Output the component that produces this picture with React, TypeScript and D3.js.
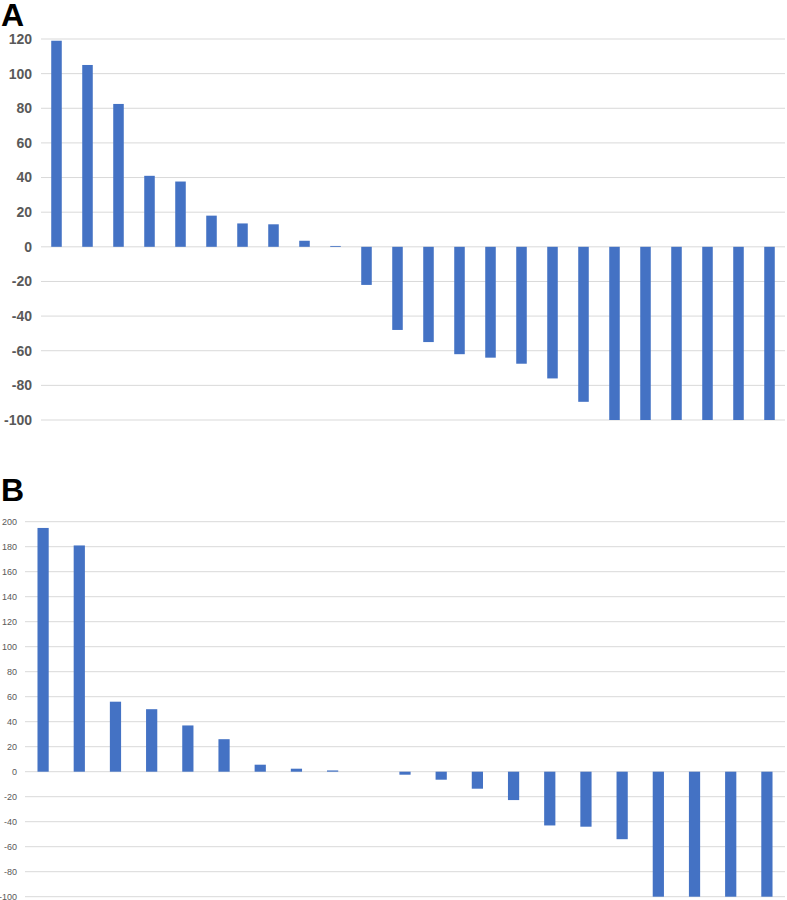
import React from 'react';
import * as d3 from 'd3';

// canvas
const width = 787;
const height = 900;

// panel A data
const valuesA = [119, 105, 82.5, 41, 37.7, 18, 13.5, 13, 3.5, 0.5, -22, -48, -55, -62, -64, -67.5, -76, -89.5, -100, -100, -100, -100, -100, -100];
const ticksA = [120, 100, 80, 60, 40, 20, 0, -20, -40, -60, -80, -100];

// panel B data
const valuesB = [195, 181, 56, 50, 37, 26, 5.6, 2.4, 1, 0, -2.4, -6.4, -13.6, -22.7, -43, -44, -54, -100, -100, -100, -100];
const ticksB = [200, 180, 160, 140, 120, 100, 80, 60, 40, 20, 0, -20, -40, -60, -80, -100];

const barColor = '#4472C4';
const gridColor = '#d9d9d9';
const labelColor = '#595959';

type PanelProps = {
  values: number[];
  ticks: number[];
  x0: number;
  x1: number;
  yTop: number;
  yBottom: number;
  padding: number;
  labelX: number;
  fontSize: number;
  bold: boolean;
};

const Panel = ({ values, ticks, x0, x1, yTop, yBottom, padding, labelX, fontSize, bold }: PanelProps) => {
  const x = d3.scaleBand<number>().domain(values.map((_, i) => i)).range([x0, x1]).paddingInner(padding).paddingOuter(padding / 2);
  const y = d3.scaleLinear().domain([d3.min(ticks)!, d3.max(ticks)!]).range([yBottom, yTop]);
  return (
    <g>
      {ticks.map(t => (
        <g key={t}>
          <line x1={x0} x2={x1} y1={y(t)} y2={y(t)} stroke={gridColor} strokeWidth={1} />
          <text
            x={labelX}
            y={y(t)}
            dy="0.35em"
            textAnchor="end"
            fontFamily="Liberation Sans, Arial, sans-serif"
            fontSize={fontSize}
            fontWeight={bold ? 'bold' : 'normal'}
            fill={labelColor}
          >
            {t}
          </text>
        </g>
      ))}
      {values.map((v, i) => (
        <rect
          key={i}
          x={x(i)}
          width={x.bandwidth()}
          y={Math.min(y(v), y(0))}
          height={Math.abs(y(v) - y(0))}
          fill={barColor}
        />
      ))}
    </g>
  );
};

const App = () => (
  <svg width={width} height={height} style={{ position: 'absolute', left: 0, top: 0 }}>
    <rect width={width} height={height} fill="white" />
    <text x={1} y={26} fontFamily="Liberation Sans, Arial, sans-serif" fontWeight="bold" fontSize={32} fill="black">A</text>
    <Panel values={valuesA} ticks={ticksA} x0={41} x1={785} yTop={39} yBottom={420} padding={0.66} labelX={32} fontSize={14} bold={true} />
    <text x={1} y={501} fontFamily="Liberation Sans, Arial, sans-serif" fontWeight="bold" fontSize={32} fill="black">B</text>
    <Panel values={valuesB} ticks={ticksB} x0={25} x1={785} yTop={521.7} yBottom={896.7} padding={0.69} labelX={17} fontSize={9} bold={false} />
  </svg>
);

export default App;
